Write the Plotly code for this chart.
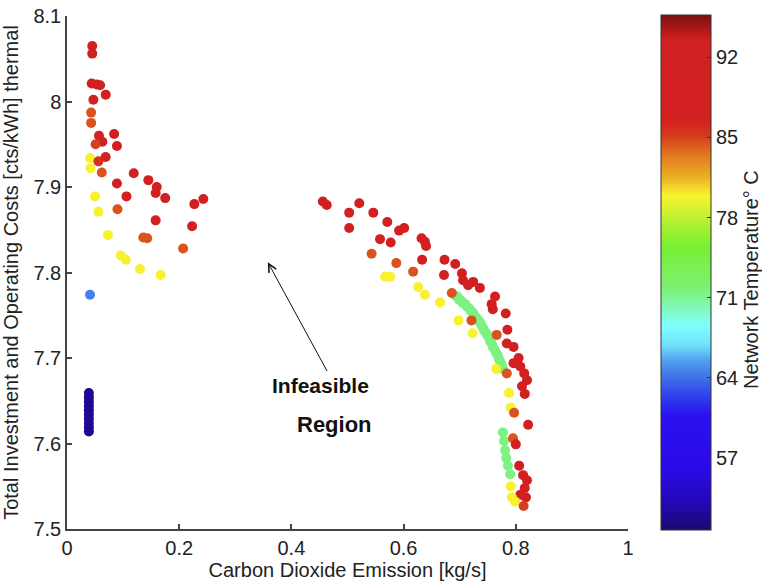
import plotly.graph_objects as go

# Low-temperature branch near the vertical axis
column_emission = [0.039, 0.039, 0.039, 0.039, 0.039, 0.039, 0.039, 0.039, 0.039, 0.039]
column_cost = [7.659, 7.654, 7.649, 7.644, 7.639, 7.634, 7.629, 7.624, 7.619, 7.614]
column_temp = [52.0, 52.0, 52.0, 52.0, 52.0, 52.0, 52.0, 52.0, 52.0, 52.0]

# Left Pareto branch
left_emission = [0.045, 0.045, 0.044, 0.053, 0.059, 0.069, 0.047, 0.043, 0.043, 0.057,
                 0.084, 0.063, 0.051, 0.089, 0.041, 0.042, 0.056, 0.069, 0.062, 0.119,
                 0.145, 0.160, 0.158, 0.089, 0.106, 0.175, 0.050, 0.056, 0.090, 0.158,
                 0.227, 0.243, 0.223, 0.073, 0.136, 0.143, 0.207, 0.096, 0.105, 0.130,
                 0.167, 0.041]
left_cost = [8.065, 8.056, 8.021, 8.020, 8.019, 8.008, 8.002, 7.987, 7.975, 7.960,
             7.962, 7.953, 7.950, 7.948, 7.934, 7.922, 7.930, 7.935, 7.917, 7.916,
             7.908, 7.900, 7.893, 7.904, 7.889, 7.887, 7.889, 7.871, 7.874, 7.861,
             7.880, 7.886, 7.854, 7.844, 7.841, 7.840, 7.828, 7.820, 7.815, 7.804,
             7.797, 7.774]
left_temp = [90, 90, 90, 90, 90, 90, 90, 84.5, 84.5, 89,
             90, 89, 85, 90, 80, 80, 85.5, 89, 84.5, 90,
             90, 90, 90, 90, 90, 90, 80, 80, 84.5, 90,
             90, 90, 90, 80, 84.5, 84.5, 84.5, 80, 80, 80,
             80, 64.5]

# Green band along the right branch
band_emission = [0.692, 0.699, 0.706, 0.713, 0.720, 0.726, 0.733, 0.738, 0.743, 0.749,
                 0.754, 0.759, 0.765, 0.770, 0.774, 0.777,
                 0.696, 0.703, 0.710, 0.717, 0.724, 0.730, 0.736, 0.741, 0.746, 0.752,
                 0.757, 0.762, 0.768, 0.772, 0.776,
                 0.777, 0.779, 0.781, 0.783, 0.786, 0.790]
band_cost = [7.773, 7.768, 7.764, 7.760, 7.755, 7.750, 7.744, 7.739, 7.733, 7.727,
             7.720, 7.713, 7.706, 7.699, 7.693, 7.687,
             7.772, 7.767, 7.763, 7.758, 7.753, 7.747, 7.742, 7.736, 7.730, 7.724,
             7.717, 7.710, 7.703, 7.696, 7.690,
             7.613, 7.603, 7.592, 7.583, 7.574, 7.564]
band_temp = [71.5, 71.5, 71.5, 71.5, 71.5, 71.5, 71.5, 71.5, 71.5, 71.5,
             71.5, 71.5, 71.5, 71.5, 71.5, 71.5,
             71.5, 71.5, 71.5, 71.5, 71.5, 71.5, 71.5, 71.5, 71.5, 71.5,
             71.5, 71.5, 71.5, 71.5, 71.5,
             71.5, 71.5, 71.5, 71.5, 71.5, 71.5]

# Right Pareto branch
right_emission = [0.456, 0.463, 0.521, 0.503, 0.503, 0.546, 0.571, 0.592, 0.601, 0.558,
                  0.577, 0.543, 0.587, 0.632, 0.638, 0.640, 0.633, 0.617, 0.673, 0.692,
                  0.672, 0.704, 0.706, 0.715, 0.724, 0.736, 0.567, 0.576, 0.626, 0.638,
                  0.665, 0.686, 0.698, 0.721, 0.723, 0.763, 0.757, 0.759, 0.782, 0.766,
                  0.785, 0.784, 0.796, 0.805, 0.796, 0.808, 0.815, 0.765, 0.784,
                  0.820, 0.811, 0.816, 0.788, 0.791, 0.797, 0.822, 0.795, 0.800, 0.806,
                  0.813, 0.820, 0.791, 0.816, 0.808, 0.793, 0.818, 0.799, 0.814]
right_cost = [7.883, 7.879, 7.881, 7.870, 7.852, 7.870, 7.859, 7.849, 7.852, 7.839,
              7.835, 7.822, 7.811, 7.840, 7.836, 7.831, 7.815, 7.801, 7.815, 7.810,
              7.797, 7.799, 7.791, 7.785, 7.789, 7.782, 7.795, 7.795, 7.783, 7.774,
              7.765, 7.776, 7.744, 7.744, 7.729, 7.772, 7.763, 7.757, 7.752, 7.727,
              7.733, 7.717, 7.713, 7.700, 7.694, 7.690, 7.682, 7.687, 7.682,
              7.674, 7.667, 7.658, 7.659, 7.642, 7.636, 7.622, 7.606, 7.599, 7.574,
              7.563, 7.557, 7.550, 7.548, 7.540, 7.537, 7.537, 7.532, 7.527]
right_temp = [90, 90, 90, 90, 90, 90, 90, 90, 90, 90,
              90, 84.5, 84.5, 90, 90, 90, 90, 84.5, 90, 90,
              90, 90, 90, 90, 90, 90, 80, 80, 80, 80,
              80, 84.5, 80, 84.5, 80, 90, 90, 90, 90, 84.5,
              90, 90, 90, 90, 90, 90, 90, 80, 84.5,
              90, 90, 90, 80, 80, 84.5, 90, 84.5, 90, 90,
              90, 90, 80, 90, 90, 80, 90, 80, 85]

x_ticks = [0, 0.2, 0.4, 0.6, 0.8, 1]
x_tick_labels = ["0", "0.2", "0.4", "0.6", "0.8", "1"]
y_ticks = [7.5, 7.6, 7.7, 7.8, 7.9, 8.0, 8.1]
y_tick_labels = ["7.5", "7.6", "7.7", "7.8", "7.9", "8", "8.1"]
cbar_ticks = [57, 64, 71, 78, 85, 92]
t_min, t_max = 50.7, 95.7

emission = column_emission + band_emission + left_emission + right_emission
cost = column_cost + band_cost + left_cost + right_cost
temp = column_temp + band_temp + left_temp + right_temp

# Jet-like temperature map with a wide red plateau
stops = [
    (50.7, "#1c0a6e"), (53.2, "#2208b8"), (55.9, "#2a0ae6"), (60.7, "#2a12f0"),
    (62.4, "#3040ee"), (64.0, "#4070e6"), (65.5, "#50a0f0"), (66.8, "#70e0f8"),
    (68.55, "#80ffff"), (70.3, "#80f8b0"), (72.0, "#7cf070"), (75.5, "#78f032"),
    (78.0, "#c0f032"), (79.9, "#f8f530"), (81.4, "#ecb424"), (83.4, "#e07a20"),
    (85.2, "#d43a1c"), (86.5, "#d42020"), (93.5, "#d02020"), (94.4, "#b01818"),
    (95.7, "#7a1010"),
]
colorscale = [[(v - t_min) / (t_max - t_min), c] for v, c in stops]

font_family = "Liberation Sans, Arial, Helvetica, sans-serif"
ink = "#222222"
axis_col = "#444444"

fig = go.Figure()
fig.add_trace(go.Scatter(
    x=emission, y=cost, mode="markers",
    marker=dict(
        size=10, color=temp, colorscale=colorscale, cmin=t_min, cmax=t_max,
        line=dict(width=0), opacity=1,
        colorbar=dict(
            x=(661 - 67) / 561, xanchor="left", xpad=0,
            y=0.5, yanchor="middle", ypad=0,
            len=515 / 513, lenmode="fraction",
            thickness=50, thicknessmode="pixels",
            outlinewidth=1, outlinecolor="#333333",
            tickvals=cbar_ticks, ticktext=[str(v) for v in cbar_ticks],
            ticks="inside", ticklen=4, tickcolor="#333333",
            tickfont=dict(family=font_family, size=20, color=ink),
        ),
    ),
    showlegend=False, hoverinfo="skip",
))

fig.add_annotation(
    x=0.358, y=7.812, ax=0.465, ay=7.683, xref="x", yref="y", axref="x", ayref="y",
    text="", showarrow=True, arrowhead=5, arrowsize=1.6, arrowwidth=1, arrowcolor="#111111",
)
fig.add_annotation(
    x=0.451, y=7.668, xref="x", yref="y", text="<b>Infeasible</b>", showarrow=False,
    font=dict(family=font_family, size=21, color="#111111"),
)
fig.add_annotation(
    x=0.476, y=7.622, xref="x", yref="y", text="<b>Region</b>", showarrow=False,
    font=dict(family=font_family, size=22, color="#111111"),
)
fig.add_annotation(
    x=(751 - 67) / 561, y=(529 - 280) / 513, xref="paper", yref="paper",
    xanchor="center", yanchor="middle",
    text="Network Temperature° C", textangle=-90, showarrow=False,
    font=dict(family=font_family, size=20, color=ink),
)

fig.update_layout(
    width=762, height=582,
    margin=dict(l=67, r=134, t=16, b=53, autoexpand=False),
    paper_bgcolor="white", plot_bgcolor="white",
    font=dict(family=font_family, size=20, color=ink),
    xaxis=dict(
        range=[0, 1], tickvals=x_ticks, ticktext=x_tick_labels,
        showline=True, linecolor=axis_col, linewidth=1.5,
        ticks="inside", ticklen=5, tickcolor=axis_col, tickwidth=1.5,
        showgrid=False, zeroline=False, automargin=False,
        tickfont=dict(size=20, color=ink),
        title=dict(text="Carbon Dioxide Emission [kg/s]", standoff=2,
                   font=dict(size=20, color=ink)),
    ),
    yaxis=dict(
        range=[7.5, 8.1], tickvals=y_ticks, ticktext=y_tick_labels,
        showline=True, linecolor=axis_col, linewidth=1.5,
        ticks="inside", ticklen=5, tickcolor=axis_col, tickwidth=1.5,
        showgrid=False, zeroline=False, automargin=False,
        tickfont=dict(size=20, color=ink),
        title=dict(text="Total Investment and Operating Costs [cts/kWh] thermal",
                   standoff=10, font=dict(size=20, color=ink)),
    ),
)

fig.write_html("out.html")
